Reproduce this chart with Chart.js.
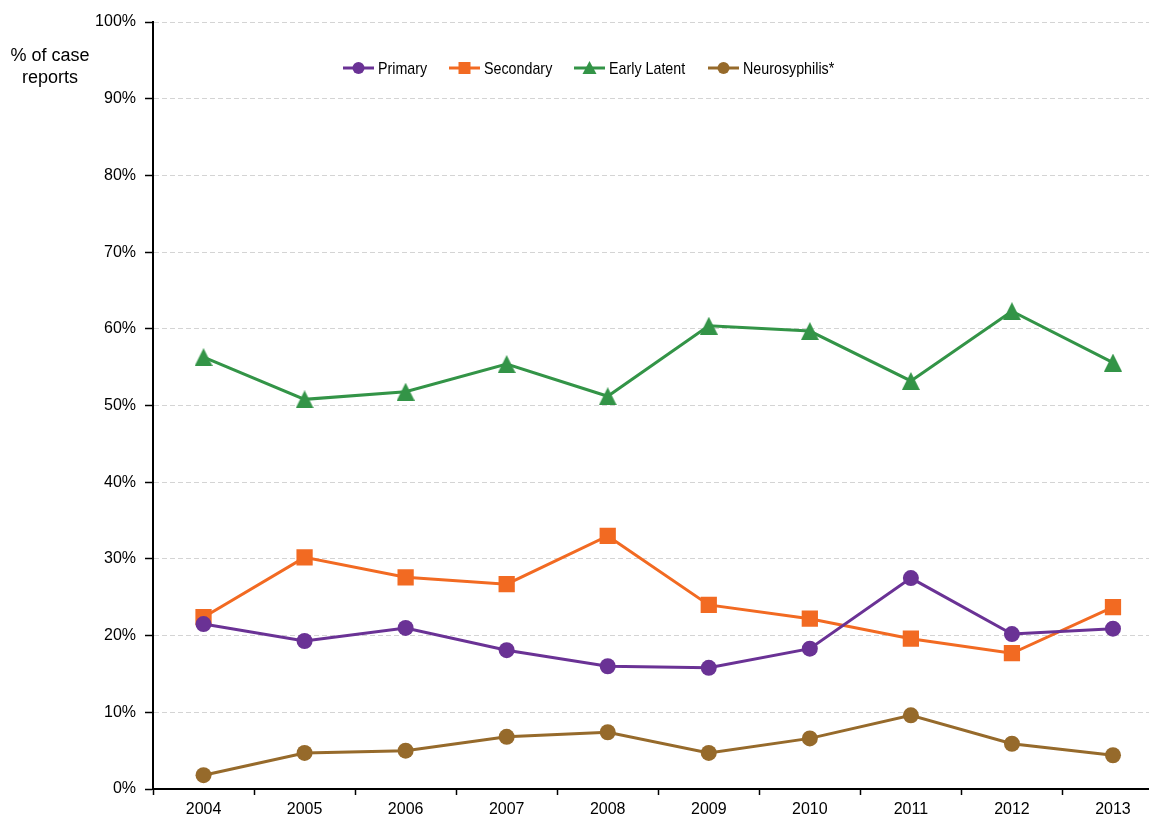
<!DOCTYPE html>
<html>
<head>
<meta charset="utf-8">
<title>Syphilis case reports by stage</title>
<script src="https://cdn.jsdelivr.net/npm/chart.js@4/dist/chart.umd.min.js"></script>
<style>
  html, body { margin: 0; padding: 0; background: #fff; overflow: hidden; }
  canvas { display: block; }
</style>
</head>
<body>
<canvas id="chartStages" width="1175" height="823"></canvas>
<script>
// Anos e percentuais por estágio
const years = ['2004', '2005', '2006', '2007', '2008', '2009', '2010', '2011', '2012', '2013'];
const primary = [21.5, 19.3, 21.0, 18.1, 16.0, 15.8, 18.3, 27.5, 20.2, 20.9];
const secondary = [22.4, 30.2, 27.6, 26.7, 33.0, 24.0, 22.2, 19.6, 17.7, 23.7];
const earlyLatent = [56.3, 50.8, 51.8, 55.4, 51.2, 60.4, 59.7, 53.2, 62.3, 55.6];
const neuro = [1.8, 4.7, 5.0, 6.8, 7.4, 4.7, 6.6, 9.6, 5.9, 4.4];
const yTitle = ['% of case', 'reports'];

const colors = {
    primary: '#6a3295',
    secondary: '#f26a22',
    latent: '#339447',
    neuro: '#966a2b'
};

const font = "'Liberation Sans', Arial, sans-serif";
Chart.defaults.font.family = font;
Chart.defaults.color = '#000';

// Triângulo um pouco mais alto que o padrão do Chart.js
function triangleImage(w, h, color) {
    const c = document.createElement('canvas');
    c.width = w;
    c.height = h;
    const g = c.getContext('2d');
    g.fillStyle = color;
    g.beginPath();
    g.moveTo(w / 2, 0);
    g.lineTo(w, h);
    g.lineTo(0, h);
    g.closePath();
    g.fill();
    return c;
}

function series(label, data, color, style, radius) {
    return {
        label: label,
        data: data,
        borderColor: color,
        backgroundColor: color,
        borderWidth: 3,
        tension: 0,
        fill: false,
        pointStyle: style,
        pointRadius: radius,
        pointHoverRadius: radius,
        pointBorderWidth: 0,
        pointBackgroundColor: color
    };
}

// Marcador da legenda
function marker(ctx, style, x, y, color) {
    ctx.fillStyle = color;
    ctx.beginPath();
    if (style === 'rect') {
        ctx.rect(x - 6, y - 6, 12, 12);
    } else if (style instanceof HTMLCanvasElement) {
        ctx.moveTo(x, y - 7);
        ctx.lineTo(x + 7, y + 6);
        ctx.lineTo(x - 7, y + 6);
        ctx.closePath();
    } else {
        ctx.arc(x, y, 6, 0, Math.PI * 2);
    }
    ctx.fill();
}

const legendX = [343, 449, 574, 708];

const overlay = {
    id: 'overlay',
    afterDraw(chart) {
        const ctx = chart.ctx;
        ctx.save();
        ctx.font = '18px ' + font;
        ctx.fillStyle = '#000';
        ctx.textAlign = 'center';
        ctx.textBaseline = 'middle';
        ctx.fillText(yTitle[0], 50, 56);
        ctx.fillText(yTitle[1], 50, 78);

        // legenda: linha + marcador + texto
        ctx.font = '17px ' + font;
        ctx.textAlign = 'left';
        const y = 68;
        chart.data.datasets.forEach((ds, i) => {
            const x = legendX[i];
            ctx.strokeStyle = ds.borderColor;
            ctx.lineWidth = 3;
            ctx.beginPath();
            ctx.moveTo(x, y);
            ctx.lineTo(x + 31, y);
            ctx.stroke();
            marker(ctx, ds.pointStyle, x + 15.5, y, ds.borderColor);
            ctx.fillStyle = '#000';
            ctx.save();
            ctx.translate(x + 35, y + 1);
            ctx.scale(0.84, 1);
            ctx.fillText(ds.label, 0, 0);
            ctx.restore();
        });
        ctx.restore();
    }
};

new Chart(document.getElementById('chartStages'), {
    type: 'line',
    data: {
        labels: years,
        datasets: [
            series('Primary', primary, colors.primary, 'circle', 8),
            series('Secondary', secondary, colors.secondary, 'rect', 11.5),
            series('Early Latent', earlyLatent, colors.latent, triangleImage(18, 18, colors.latent), 9),
            series('Neurosyphilis*', neuro, colors.neuro, 'circle', 8)
        ]
    },
    options: {
        responsive: false,
        animation: false,
        layout: { padding: { top: 22, right: 2, left: 0, bottom: 0 } },
        plugins: {
            legend: { display: false },
            tooltip: { enabled: false }
        },
        scales: {
            x: {
                offset: true,
                afterFit(scale) { scale.height = 34; },
                grid: {
                    offset: true,
                    drawOnChartArea: false,
                    drawTicks: true,
                    tickLength: 6,
                    tickColor: '#000',
                    tickWidth: 1.5,
                    tickBorderDash: []
                },
                border: { display: true, color: '#000', width: 2 },
                ticks: { font: { size: 16 }, padding: 5, maxRotation: 0 }
            },
            y: {
                min: 0,
                max: 100,
                afterFit(scale) { scale.width = 153; },
                grid: {
                    color: '#d4d4d4',
                    lineWidth: 1,
                    drawTicks: true,
                    tickLength: 8,
                    tickColor: '#000',
                    tickWidth: 1.5,
                    tickBorderDash: []
                },
                border: { display: true, color: '#000', width: 2, dash: [5, 3] },
                ticks: {
                    stepSize: 10,
                    font: { size: 16 },
                    padding: 9,
                    callback: v => v + '%'
                }
            }
        }
    },
    plugins: [overlay]
});
</script>
</body>
</html>
